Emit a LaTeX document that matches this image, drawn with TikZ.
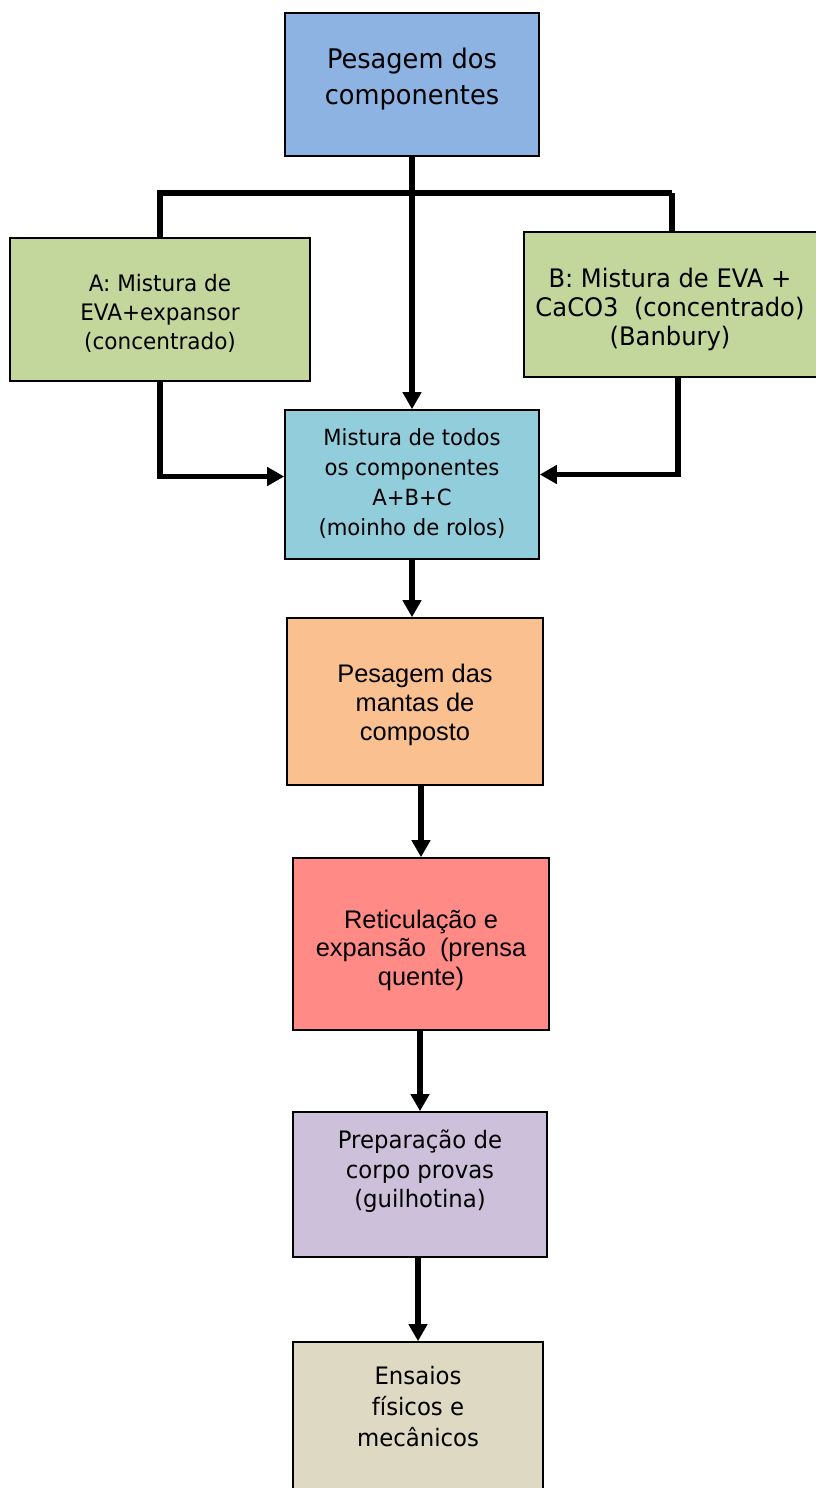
\documentclass[tikz,border=0pt]{standalone}
\usepackage{fontspec}
\newfontfamily\tah[FakeStretch=0.95]{DejaVu Sans}
\newfontfamily\ari{Liberation Sans}
\usetikzlibrary{arrows.meta}
\definecolor{cTop}{HTML}{8DB3E2}
\definecolor{cGreen}{HTML}{C3D69B}
\definecolor{cMix}{HTML}{92CDDC}
\definecolor{cMantas}{HTML}{FAC090}
\definecolor{cRet}{HTML}{FF8A86}
\definecolor{cPrep}{HTML}{CCC0DA}
\definecolor{cEns}{HTML}{DDD9C3}
\begin{document}
\begin{tikzpicture}[x=1pt,y=-1pt,
  box/.style={draw=black, line width=1.6pt, inner sep=0pt},
  conn/.style={draw=black, line width=5.5pt},
  arr/.style={conn, -{Triangle[length=17pt,width=18pt]}},
  lbl/.style={align=center, text=black, inner sep=0pt},
]
\useasboundingbox (0,0) rectangle (816,1488);

\node[box, fill=cTop, minimum width=254pt, minimum height=143pt,
  label={[lbl, font=\tah\fontsize{27pt}{36pt}\selectfont, yshift=5pt]center:{Pesagem dos\\componentes}}]
  (top) at (412,84.5) {};

\node[box, fill=cGreen, minimum width=300pt, minimum height=143pt,
  label={[lbl, font=\tah\fontsize{22.7pt}{29pt}\selectfont, yshift=-3.5pt]center:{A: Mistura de\\EVA+expansor\\(concentrado)}}]
  (A) at (160,309.5) {};

\node[box, fill=cGreen, minimum width=296pt, minimum height=145pt,
  label={[lbl, font=\tah\fontsize{25.5pt}{29pt}\selectfont, yshift=-5pt, xshift=-2pt]center:{B: Mistura de EVA +\\CaCO3\ \ (concentrado)\\(Banbury)}}]
  (B) at (672,304.5) {};

\node[box, fill=cMix, minimum width=254pt, minimum height=149pt,
  label={[lbl, font=\tah\fontsize{22.3pt}{30.3pt}\selectfont, yshift=1pt]center:{Mistura de todos\\os componentes\\A+B+C\\(moinho de rolos)}}]
  (mix) at (412,484.5) {};

\node[box, fill=cMantas, minimum width=256pt, minimum height=167pt,
  label={[lbl, font=\ari\fontsize{25.4pt}{29pt}\selectfont, yshift=-3pt]center:{Pesagem das\\mantas de\\composto}}]
  (mantas) at (415,701.5) {};

\node[box, fill=cRet, minimum width=256pt, minimum height=172pt,
  label={[lbl, font=\ari\fontsize{25.4pt}{28.5pt}\selectfont, yshift=-6pt]center:{Reticulação e\\expansão\ \ (prensa\\quente)}}]
  (ret) at (421,944) {};

\node[box, fill=cPrep, minimum width=254pt, minimum height=145pt,
  label={[lbl, font=\tah\fontsize{24pt}{29.5pt}\selectfont, yshift=13pt]center:{Preparação de\\corpo provas\\(guilhotina)}}]
  (prep) at (420,1184.5) {};

\node[box, fill=cEns, minimum width=250pt, minimum height=158pt,
  label={[lbl, font=\tah\fontsize{24pt}{31pt}\selectfont, yshift=14pt]center:{Ensaios\\físicos e\\mecânicos}}]
  (ens) at (418,1421) {};

% branching from the top box
\coordinate (br) at (672,193);
\draw[arr] (top.south) -- (mix.north);
\draw[conn] (A.north) |- (br);
\draw[conn] (B.north) -- (B.north |- br);

% side inputs into the mixing box
\draw[arr] (A.south) |- ([yshift=8pt]mix.west);
\draw[arr] ([xshift=6pt]B.south) |- ([yshift=10pt]mix.east);

% main chain
\draw[arr] (mix.south) -- (mix.south |- mantas.north);
\draw[arr] (mantas.south -| ret.north) -- (ret.north);
\draw[arr] (ret.south -| prep.north) -- (prep.north);
\draw[arr] (prep.south -| ens.north) -- (ens.north);
\end{tikzpicture}
\end{document}
